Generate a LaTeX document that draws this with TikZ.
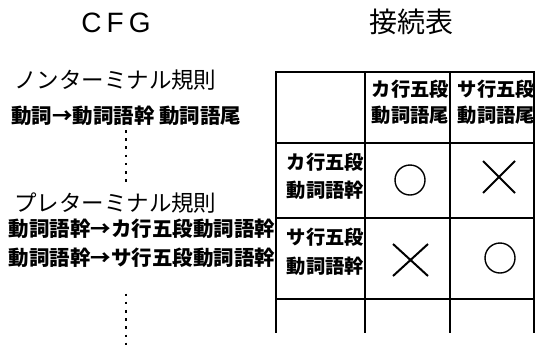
\documentclass[tikz,border=0pt]{standalone}
\usepackage{fontspec}
\newfontfamily\jp{Noto Sans CJK JP}
\newfontfamily\lat{Liberation Sans}
\tikzset{
  txt/.style={inner sep=0pt, outer sep=0pt},
  title/.style={txt, font=\jp\fontsize{28}{30}\selectfont},
  head/.style={txt, font=\jp\fontsize{22.5}{24}\selectfont},
  rule/.style={txt, font=\jp\bfseries\fontsize{20.5}{22}\selectfont},
  cell/.style={txt, font=\jp\bfseries\fontsize{19.3}{21}\selectfont},
  grid/.style={line width=2pt},
  dots/.style={line width=2.6pt, dash pattern=on 2.6pt off 5.6pt},
  mark o/.style={line width=1.4pt},
  mark x/.style={line width=2pt},
}
\begin{document}
\begin{tikzpicture}[x=1pt,y=-1pt]
\useasboundingbox (0,0) rectangle (538,346);
% left column
\node[txt, font=\lat\fontsize{28}{30}\selectfont] (cfg) at (116,23) {C\kern5pt F\kern5pt G};
\node[head, anchor=west] (nt) at (14,80) {ノンターミナル規則};
\node[rule, anchor=west] (r1) at (11,116) {動詞→動詞語幹 動詞語尾};
\node[head, anchor=west] (pt) at (14,203) {プレターミナル規則};
\node[rule, anchor=west] (r2) at (9,229) {動詞語幹→カ行五段動詞語幹};
\node[rule, anchor=west] (r3) at (9,258) {動詞語幹→サ行五段動詞語幹};
\coordinate (d1a) at (126,130);
\coordinate (d1b) at (126,185);
\coordinate (d2a) at (126,293.5);
\coordinate (d2b) at (126,350);
\draw[dots] (d1a) -- (d1b);
\draw[dots] (d2a) -- (d2b);
% right: table
\node[title] (tt) at (411,22) {接続表};
\draw[grid] (276,72) -- (534,72);
\draw[grid] (276,143) -- (534,143);
\draw[grid] (276,218) -- (534,218);
\draw[grid] (276,299) -- (534,299);
\draw[grid] (276,71) -- (276,333);
\draw[grid] (365,71) -- (365,333);
\draw[grid] (450,71) -- (450,333);
\draw[grid] (534,71) -- (534,333);
% header
\node[cell, anchor=east] (h1a) at (449,89) {カ行五段};
\node[cell, anchor=east] (h1b) at (449,115) {動詞語尾};
\node[cell, anchor=east] (h2a) at (535,89) {サ行五段};
\node[cell, anchor=east] (h2b) at (535,115) {動詞語尾};
% row headers
\node[cell, anchor=east] (v1a) at (364,162) {カ行五段};
\node[cell, anchor=east] (v1b) at (364,190) {動詞語幹};
\node[cell, anchor=east] (v2a) at (364,237) {サ行五段};
\node[cell, anchor=east] (v2b) at (364,266) {動詞語幹};
% marks
\draw[mark o] (410,180) circle (15);
\draw[mark x] (483,161) -- (515,193) (483,193) -- (515,161);
\draw[mark x] (393,244) -- (428,276) (393,276) -- (428,244);
\draw[mark o] (500,258) circle (15);
\end{tikzpicture}
\end{document}
